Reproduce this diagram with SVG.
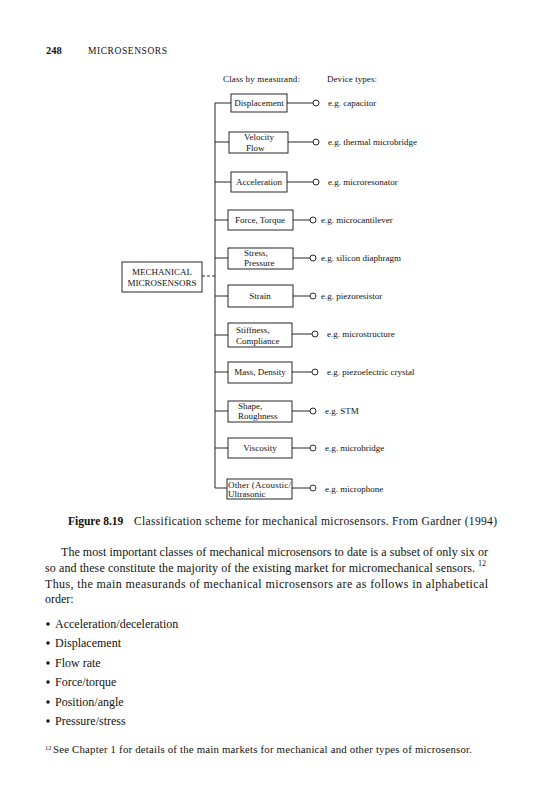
<svg xmlns="http://www.w3.org/2000/svg" width="535" height="800" viewBox="0 0 535 800">
<style>
text{font-family:"Liberation Serif","Times New Roman",serif;fill:#111}
.d{font-size:9px}
.box{fill:none;stroke:#111;stroke-width:0.9}
.ln{fill:none;stroke:#111;stroke-width:0.9}
.c{fill:#fff;stroke:#111;stroke-width:0.9}
.body{font-size:12px}
</style>
<rect width="535" height="800" fill="#fff"/>
<text x="46" y="54" font-size="10.5" font-weight="bold">248</text>
<text x="88" y="54" font-size="9.5" textLength="79">MICROSENSORS</text>

<text class="d" x="223" y="82" textLength="77">Class by measurand:</text>
<text class="d" x="327" y="82" textLength="50">Device types:</text>

<g id="connectors">
<path class="ln" d="M215,103 V488"/>
<path class="ln" d="M215,103 H231 M215,142 H229 M215,182 H231 M215,220 H228 M215,258 H228 M215,296 H228 M215,335 H228 M215,372 H228 M215,411 H228 M215,448 H228 M215,488 H227"/>
<path class="ln" d="M202,276 H215" stroke-dasharray="3,2"/>
<path class="ln" d="M287,103 H313 M288,142 H313 M287,182 H313 M293,220 H310 M293,258 H310 M293,296 H310 M292,334 H312 M292,372 H312 M292,411 H310 M292,448 H310 M292,488 H310"/>
</g>

<g id="mechanical">
<rect class="box" x="122" y="262" width="80" height="30"/>
<text class="d" x="162" y="275" text-anchor="middle">MECHANICAL</text>
<text class="d" x="162" y="286" text-anchor="middle">MICROSENSORS</text>
</g>

<g id="displacement">
<rect class="box" x="231" y="94" width="56" height="18"/>
<text class="d" x="259" y="106" text-anchor="middle">Displacement</text>
<circle class="c" cx="316" cy="103" r="3"/>
<text class="d" x="328" y="106">e.g. capacitor</text>
</g>
<g id="velocity">
<rect class="box" x="229" y="132" width="59" height="21"/>
<text class="d" x="244" y="140">Velocity</text>
<text class="d" x="246" y="151">Flow</text>
<circle class="c" cx="316" cy="142" r="3"/>
<text class="d" x="328" y="145">e.g. thermal microbridge</text>
</g>
<g id="acceleration">
<rect class="box" x="231" y="172" width="56" height="20"/>
<text class="d" x="259" y="185" text-anchor="middle">Acceleration</text>
<circle class="c" cx="316" cy="182" r="3"/>
<text class="d" x="328" y="185">e.g. microresonator</text>
</g>
<g id="force">
<rect class="box" x="228" y="210" width="65" height="20"/>
<text class="d" x="260" y="223" text-anchor="middle">Force, Torque</text>
<circle class="c" cx="313" cy="220" r="3"/>
<text class="d" x="321" y="223">e.g. microcantilever</text>
</g>
<g id="stress">
<rect class="box" x="228" y="248" width="65" height="21"/>
<text class="d" x="244" y="256">Stress,</text>
<text class="d" x="244" y="266">Pressure</text>
<circle class="c" cx="313" cy="258" r="3"/>
<text class="d" x="321" y="261">e.g. silicon diaphragm</text>
</g>
<g id="strain">
<rect class="box" x="228" y="285" width="65" height="22"/>
<text class="d" x="260" y="299" text-anchor="middle">Strain</text>
<circle class="c" cx="313" cy="296" r="3"/>
<text class="d" x="321" y="299">e.g. piezoresistor</text>
</g>
<g id="stiffness">
<rect class="box" x="228" y="323" width="64" height="24"/>
<text class="d" x="236" y="333">Stiffness,</text>
<text class="d" x="236" y="344">Compliance</text>
<circle class="c" cx="315" cy="334" r="3"/>
<text class="d" x="327" y="337">e.g. microstructure</text>
</g>
<g id="mass">
<rect class="box" x="228" y="362" width="64" height="21"/>
<text class="d" x="260" y="375" text-anchor="middle">Mass, Density</text>
<circle class="c" cx="315" cy="372" r="3"/>
<text class="d" x="327" y="375">e.g. piezoelectric crystal</text>
</g>
<g id="shape">
<rect class="box" x="228" y="401" width="64" height="21"/>
<text class="d" x="238" y="409">Shape,</text>
<text class="d" x="238" y="419">Roughness</text>
<circle class="c" cx="313" cy="411" r="3"/>
<text class="d" x="325" y="414">e.g. STM</text>
</g>
<g id="viscosity">
<rect class="box" x="228" y="438" width="64" height="20"/>
<text class="d" x="260" y="451" text-anchor="middle">Viscosity</text>
<circle class="c" cx="313" cy="448" r="3"/>
<text class="d" x="325" y="451">e.g. microbridge</text>
</g>
<g id="other">
<rect class="box" x="227" y="479" width="65" height="20"/>
<text class="d" x="228" y="488" textLength="63">Other (Acoustic/</text>
<text class="d" x="228" y="497">Ultrasonic</text>
<circle class="c" cx="313" cy="488" r="3"/>
<text class="d" x="325" y="492">e.g. microphone</text>
</g>

<text x="68" y="525" font-size="11.5" font-weight="bold">Figure 8.19</text>
<text x="134" y="525" font-size="11.5" textLength="363">Classification scheme for mechanical microsensors. From Gardner (1994)</text>

<text class="body" x="61" y="556" textLength="427" lengthAdjust="spacing">The most important classes of mechanical microsensors to date is a subset of only six or</text>
<text class="body" x="45" y="572" textLength="430" lengthAdjust="spacing">so and these constitute the majority of the existing market for micromechanical sensors.</text>
<text x="478" y="566" font-size="8">12</text>
<text class="body" x="45" y="588" textLength="443" lengthAdjust="spacing">Thus, the main measurands of mechanical microsensors are as follows in alphabetical</text>
<text class="body" x="45" y="603">order:</text>

<g>
<circle cx="48" cy="624" r="1.7" fill="#111"/>
<text class="body" x="55" y="628">Acceleration/deceleration</text>
<circle cx="48" cy="643" r="1.7" fill="#111"/>
<text class="body" x="55" y="647">Displacement</text>
<circle cx="48" cy="663" r="1.7" fill="#111"/>
<text class="body" x="55" y="667">Flow rate</text>
<circle cx="48" cy="682" r="1.7" fill="#111"/>
<text class="body" x="55" y="686">Force/torque</text>
<circle cx="48" cy="702" r="1.7" fill="#111"/>
<text class="body" x="55" y="706">Position/angle</text>
<circle cx="48" cy="721" r="1.7" fill="#111"/>
<text class="body" x="55" y="725">Pressure/stress</text>
</g>

<text x="45" y="750" font-size="6.5">12</text>
<text x="53" y="753" font-size="10.8" textLength="419">See Chapter 1 for details of the main markets for mechanical and other types of microsensor.</text>
</svg>
